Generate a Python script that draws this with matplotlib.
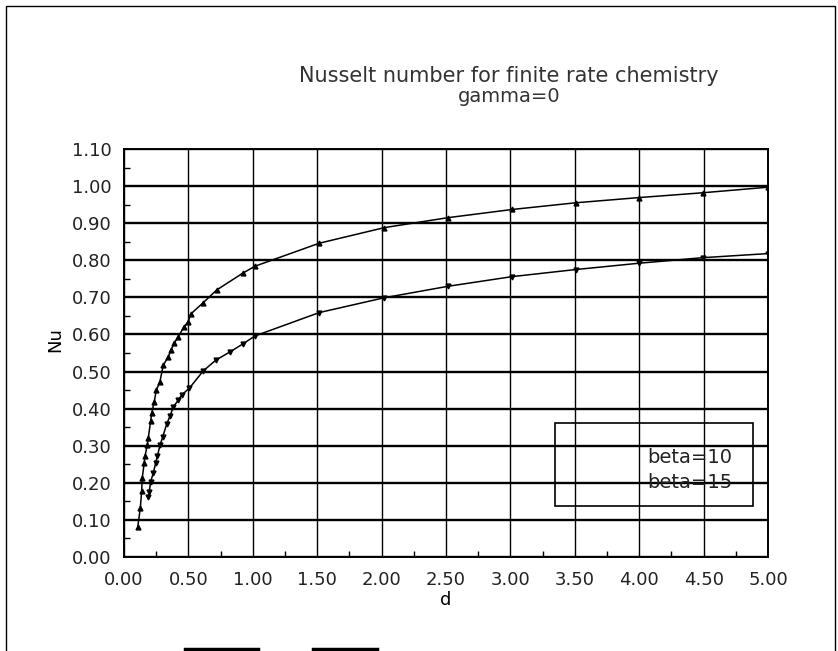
import matplotlib
matplotlib.use("Agg")
from matplotlib import pyplot as plt
from matplotlib.patches import Rectangle
from matplotlib.lines import Line2D
from matplotlib.ticker import MultipleLocator, FormatStrFormatter

# Nu vs d, beta=10
d_b10 = [0.107, 0.127, 0.137, 0.142, 0.157, 0.163, 0.181, 0.189, 0.207, 0.215,
         0.235, 0.251, 0.279, 0.305, 0.344, 0.365, 0.388, 0.422, 0.466, 0.499,
         0.518, 0.616, 0.720, 0.921, 1.017, 1.516, 2.021, 2.518, 3.015, 3.507,
         3.998, 4.493, 5.000]
nu_b10 = [0.082, 0.133, 0.178, 0.214, 0.254, 0.272, 0.302, 0.322, 0.367, 0.388,
          0.419, 0.450, 0.473, 0.517, 0.540, 0.558, 0.576, 0.594, 0.621, 0.634,
          0.655, 0.686, 0.720, 0.765, 0.784, 0.846, 0.888, 0.915, 0.937, 0.955,
          0.969, 0.982, 0.997]

# Nu vs d, beta=15
d_b15 = [0.189, 0.196, 0.207, 0.228, 0.246, 0.259, 0.280, 0.300, 0.331, 0.357,
         0.383, 0.422, 0.448, 0.507, 0.616, 0.714, 0.823, 0.921, 1.017, 1.516,
         2.021, 2.518, 3.015, 3.507, 3.998, 4.493, 5.000]
nu_b15 = [0.163, 0.176, 0.203, 0.227, 0.254, 0.272, 0.302, 0.323, 0.358, 0.380,
          0.405, 0.423, 0.437, 0.455, 0.502, 0.531, 0.553, 0.574, 0.596, 0.659,
          0.699, 0.730, 0.756, 0.775, 0.792, 0.807, 0.818]

labels = ["beta=10", "beta=15"]

W, H = 838, 651
fig = plt.figure(figsize=(W / 100, H / 100), dpi=100)
ax = fig.add_axes([124 / W, 1 - 557 / H, (768 - 124) / W, (557 - 149) / H])

ax.plot(d_b10, nu_b10, color="black", lw=1.1, marker="^", ms=3.5)
ax.plot(d_b15, nu_b15, color="black", lw=1.1, marker="v", ms=3.5)

ax.set_xlim(0, 5)
ax.set_ylim(0, 1.1)
ax.xaxis.set_major_locator(MultipleLocator(0.5))
ax.yaxis.set_major_locator(MultipleLocator(0.1))
ax.xaxis.set_minor_locator(MultipleLocator(0.25))
ax.yaxis.set_minor_locator(MultipleLocator(0.05))
ax.xaxis.set_major_formatter(FormatStrFormatter("%.2f"))
ax.yaxis.set_major_formatter(FormatStrFormatter("%.2f"))
ax.tick_params(which="major", length=0, labelsize=13, colors="#222222")
ax.tick_params(axis="x", which="major", pad=10)
ax.tick_params(axis="y", which="major", pad=9)
ax.tick_params(which="minor", direction="in", length=4, width=1, color="black")

ax.grid(axis="y", which="major", color="black", lw=1.7)
ax.grid(axis="x", which="major", color="black", lw=1.0)
for s in ax.spines.values():
    s.set_linewidth(1.4)

# legend box
ax.add_patch(Rectangle((3.346, 0.137), 1.538, 0.224, fill=False,
                       edgecolor="black", lw=1.2, zorder=3))
ax.text(4.06, 0.267, labels[0], fontsize=14, va="center", color="#222222")
ax.text(4.06, 0.202, labels[1], fontsize=14, va="center", color="#222222")

fig.text(509 / W, 1 - 76 / H, "Nusselt number for finite rate chemistry",
         ha="center", va="center", fontsize=15, color="#333333")
fig.text(509 / W, 1 - 97 / H, "gamma=0", ha="center", va="center",
         fontsize=14, color="#333333")
fig.text(446 / W, 1 - 600 / H, "d", ha="center", va="center", fontsize=13)
fig.text(55 / W, 1 - 340 / H, "Nu", ha="center", va="center",
         fontsize=13, rotation=90)

# page frame and stray strokes at the bottom
fig.add_artist(Rectangle((6 / W, -0.1), (835 - 6) / W, 1.1 - 6 / H,
                         transform=fig.transFigure, fill=False,
                         edgecolor="black", lw=1.0))
for x0, x1 in [(185, 258), (313, 377)]:
    fig.add_artist(Line2D([x0 / W, x1 / W], [1 - 649 / H, 1 - 649 / H],
                          transform=fig.transFigure, color="black", lw=2.5))

fig.savefig("out.png", dpi=100)
